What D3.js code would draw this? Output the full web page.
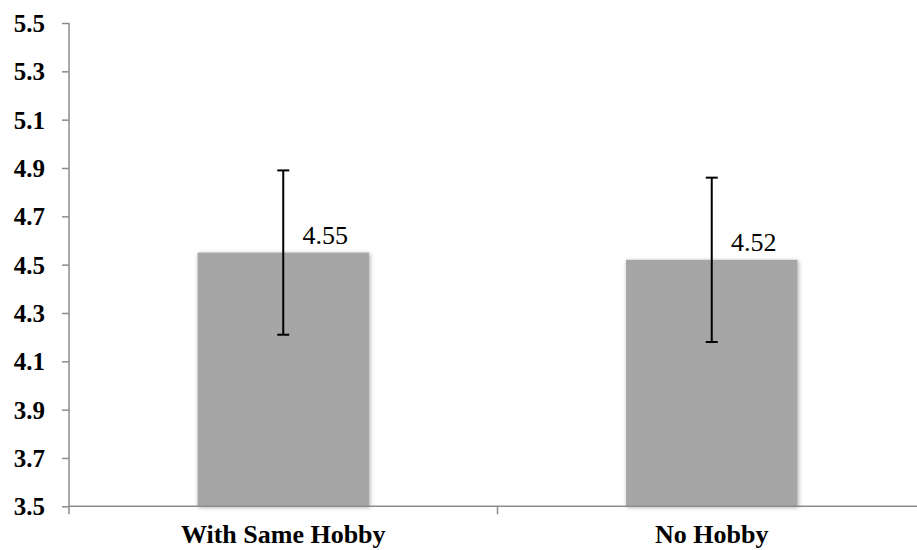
<!DOCTYPE html>
<html>
<head>
<meta charset="utf-8">
<script src="https://cdn.jsdelivr.net/npm/d3@7"></script>
<style>
  html, body { margin: 0; padding: 0; background: #fff; }
  svg { display: block; }
  svg text { font-family: "Liberation Serif", "Times New Roman", serif !important; }
</style>
</head>
<body>
<script>
const categories = ["With Same Hobby", "No Hobby"];
const means = [4.55, 4.52];
const errors = [0.34, 0.34];
const valueLabels = ["4.55", "4.52"];
const yTicks = [3.5, 3.7, 3.9, 4.1, 4.3, 4.5, 4.7, 4.9, 5.1, 5.3, 5.5];

const W = 917, H = 550;
const svg = d3.select("body").append("svg").attr("width", W).attr("height", H);

const defs = svg.append("defs");
const f = defs.append("filter").attr("id", "shadow")
  .attr("x", "-10%").attr("y", "-10%").attr("width", "120%").attr("height", "120%");
f.append("feGaussianBlur").attr("in", "SourceAlpha").attr("stdDeviation", 2).attr("result", "b");
f.append("feOffset").attr("in", "b").attr("dx", 1).attr("dy", 1).attr("result", "o");
f.append("feComponentTransfer").attr("in", "o").attr("result", "o2")
  .append("feFuncA").attr("type", "linear").attr("slope", 0.35);
const m = f.append("feMerge");
m.append("feMergeNode").attr("in", "o2");
m.append("feMergeNode").attr("in", "SourceGraphic");

const plotLeft = 69, plotRight = 926, plotTop = 23, plotBottom = 506.3;
const FONT = '"Liberation Serif", "Times New Roman", serif';

const x = d3.scaleBand().domain(categories).range([plotLeft, plotRight]).paddingInner(0.6).paddingOuter(0.3);
const y = d3.scaleLinear().domain([3.5, 5.5]).range([plotBottom, plotTop]);

const axisColor = "#8c8c8c";

// bars
svg.selectAll("rect.bar").data(categories).enter().append("rect")
  .attr("class", "bar")
  .attr("x", d => x(d))
  .attr("width", x.bandwidth())
  .attr("y", (d, i) => y(means[i]))
  .attr("height", (d, i) => y(3.5) - y(means[i]))
  .attr("fill", "#a6a6a6")
  .attr("filter", "url(#shadow)");

// y axis
const yAxis = d3.axisLeft(y).tickValues(yTicks).tickSize(7).tickPadding(17)
  .tickFormat(d3.format(".1f"));
const gy = svg.append("g").attr("transform", `translate(${plotLeft},0)`).call(yAxis);
gy.attr("font-family", null);
gy.select(".domain").remove();
gy.selectAll(".tick line").attr("stroke", axisColor).attr("stroke-width", 1.5);
gy.selectAll(".tick text").attr("fill", "#000")
  .style("font-family", FONT).style("font-size", "25px").style("font-weight", "bold")
  .attr("dy", "0.34em");
svg.append("line").attr("x1", plotLeft).attr("x2", plotLeft).attr("y1", plotTop).attr("y2", plotBottom + 8)
  .attr("stroke", axisColor).attr("stroke-width", 1.5);

// x axis
svg.append("line").attr("x1", plotLeft).attr("x2", W).attr("y1", plotBottom).attr("y2", plotBottom)
  .attr("stroke", axisColor).attr("stroke-width", 1.5);
// category boundary ticks
const step = x.step();
const boundaries = categories.slice(1).map(c => x(c) - (step - x.bandwidth()) / 2);
svg.selectAll("line.ctick").data(boundaries).enter().append("line")
  .attr("class", "ctick")
  .attr("x1", d => d).attr("x2", d => d).attr("y1", plotBottom).attr("y2", plotBottom + 8)
  .attr("stroke", axisColor).attr("stroke-width", 1.5);

svg.selectAll("text.cat").data(categories).enter().append("text")
  .attr("class", "cat")
  .attr("x", d => x(d) + x.bandwidth() / 2)
  .attr("y", 543)
  .attr("text-anchor", "middle")
  .style("font-family", FONT).style("font-size", "26px").style("font-weight", "bold")
  .attr("fill", "#000")
  .text(d => d);

// error bars
const eb = svg.selectAll("g.err").data(categories).enter().append("g").attr("class", "err");
eb.append("line")
  .attr("x1", d => x(d) + x.bandwidth() / 2).attr("x2", d => x(d) + x.bandwidth() / 2)
  .attr("y1", (d, i) => y(means[i] + errors[i])).attr("y2", (d, i) => y(means[i] - errors[i]))
  .attr("stroke", "#000").attr("stroke-width", 2);
[1, -1].forEach(s => {
  eb.append("line")
    .attr("x1", d => x(d) + x.bandwidth() / 2 - 6).attr("x2", d => x(d) + x.bandwidth() / 2 + 6)
    .attr("y1", (d, i) => y(means[i] + s * errors[i])).attr("y2", (d, i) => y(means[i] + s * errors[i]))
    .attr("stroke", "#000").attr("stroke-width", 2);
});

// value labels
svg.selectAll("text.val").data(categories).enter().append("text")
  .attr("class", "val")
  .attr("x", d => x(d) + x.bandwidth() / 2 + 42)
  .attr("y", (d, i) => y(means[i]) - 9)
  .attr("text-anchor", "middle")
  .style("font-family", FONT).style("font-size", "26px")
  .attr("fill", "#000")
  .text((d, i) => valueLabels[i]);
</script>
</body>
</html>
